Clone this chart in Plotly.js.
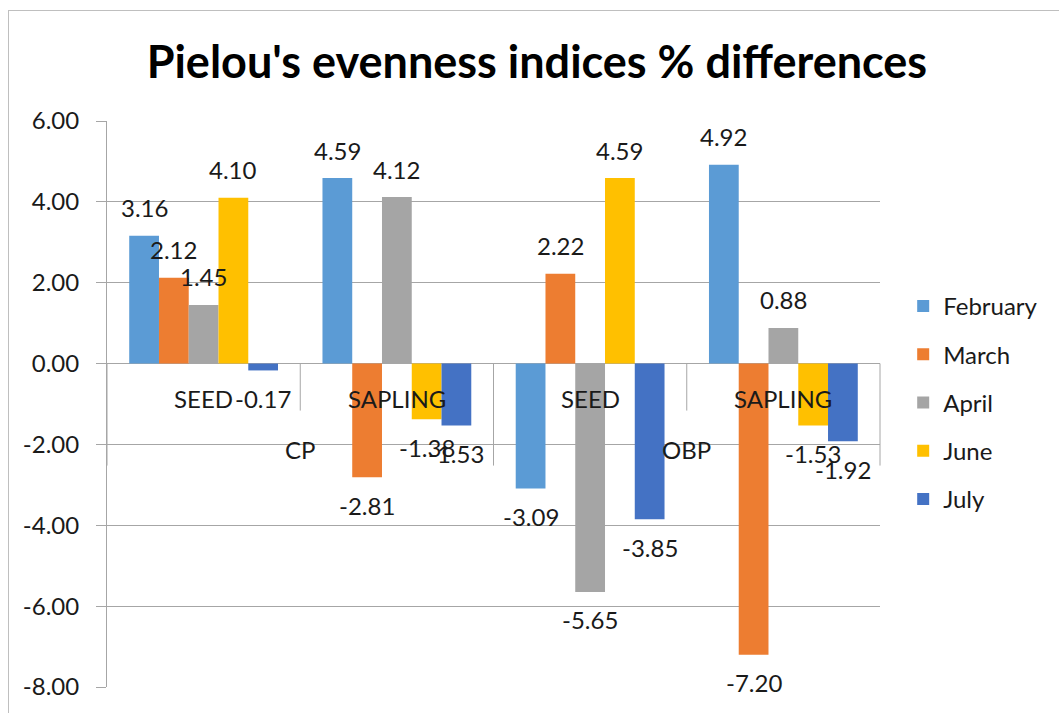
<!DOCTYPE html>
<html>
<head>
<meta charset="utf-8">
<script src="https://cdn.plot.ly/plotly-3.0.1.min.js"></script>
<style>
  html, body { margin: 0; padding: 0; background: #fff; }
  #frame { position: absolute; left: 8px; top: 10px; width: 1200px; height: 900px; border: 1px solid #bfbfbf; box-sizing: border-box; }
  #chart { position: absolute; left: 0; top: 0; width: 1059px; height: 713px; }
</style>
</head>
<body>
<div id="frame"></div>
<div id="chart"></div>
<script>
const sites = ["CP", "CP", "OBP", "OBP"];
const stages = ["SEED", "SAPLING", "SEED", "SAPLING"];
const months = ["February", "March", "April", "June", "July"];
const february = [3.16, 4.59, -3.09, 4.92];
const march = [2.12, -2.81, 2.22, -7.20];
const april = [1.45, 4.12, -5.65, 0.88];
const june = [4.10, -1.38, 4.59, -1.53];
const july = [-0.17, -1.53, -3.85, -1.92];
const yTicks = [6, 4, 2, 0, -2, -4, -6, -8];

const series = [february, march, april, june, july];
const colors = ["#5B9BD5", "#ED7D31", "#A5A5A5", "#FFC000", "#4472C4"];
const FONT = "Lato, 'Open Sans', sans-serif";
const FS = 24;
const BARGAP = 0.23;
const GRAY = "#a6a6a6";

const traces = series.map((vals, i) => ({
  type: "bar",
  name: months[i],
  legendgroup: months[i],
  x: [sites, stages],
  y: vals,
  marker: { color: colors[i] },
  hoverinfo: "none"
}));

const nCat = stages.length;
const nSer = series.length;
const barW = (1 - BARGAP) / nSer;
const annotations = [];
// value labels, placed via the y scale, offset from bar ends
series.forEach((vals, i) => {
  vals.forEach((v, j) => {
    annotations.push({
      xref: "paper", yref: "y",
      x: (j + 0.5 + (i - (nSer - 1) / 2) * barW) / nCat,
      y: v,
      yshift: v >= 0 ? 28 : -28,
      text: v.toFixed(2),
      showarrow: false,
      xanchor: "center", yanchor: "middle",
      font: { family: FONT, size: FS, color: "#1a1a1a" }
    });
  });
});
// category labels (inner level)
stages.forEach((s, j) => {
  annotations.push({
    xref: "paper", yref: "y", x: (j + 0.5) / nCat, y: 0, yshift: -35,
    text: s, showarrow: false, xanchor: "center", yanchor: "middle",
    font: { family: FONT, size: FS, color: "#1a1a1a" }
  });
});
// group labels (outer level)
const groups = [...new Set(sites)];
groups.forEach((g, k) => {
  const idx = sites.map((s, j) => s === g ? j : -1).filter(j => j >= 0);
  const c = (idx[0] + idx[idx.length - 1] + 1) / 2;
  annotations.push({
    xref: "paper", yref: "y", x: c / nCat, y: 0, yshift: -86,
    text: g, showarrow: false, xanchor: "center", yanchor: "middle",
    font: { family: FONT, size: FS, color: "#1a1a1a" }
  });
});

// category separators hanging below the zero line
const shapes = [];
for (let j = 0; j <= nCat; j++) {
  const groupEdge = (j === 0 || j === nCat || sites[j] !== sites[j - 1]);
  shapes.push({
    type: "line", xref: "paper", yref: "y",
    ysizemode: "pixel", yanchor: 0,
    x0: j / nCat, x1: j / nCat, y0: 0, y1: groupEdge ? -102 : -47,
    line: { color: GRAY, width: 1 }
  });
}

const layout = {
  width: 1059, height: 713,
  margin: { l: 107, r: 179, t: 121, b: 26 },
  paper_bgcolor: "rgba(0,0,0,0)",
  plot_bgcolor: "rgba(0,0,0,0)",
  font: { family: FONT, size: FS, color: "#1a1a1a" },
  title: {
    text: "<b>Pielou's evenness indices % differences</b>",
    font: { family: FONT, size: 45, color: "#000" },
    x: 0.507, xanchor: "center", xref: "container",
    y: 0.913, yanchor: "middle", yref: "container"
  },
  barmode: "group",
  bargap: BARGAP,
  bargroupgap: 0,
  showlegend: true,
  legend: {
    x: 1.030, xanchor: "left", y: 0.712, yanchor: "top",
    font: { family: FONT, size: FS, color: "#1a1a1a" },
    tracegroupgap: 14,
    bgcolor: "rgba(0,0,0,0)"
  },
  annotations: annotations,
  shapes: shapes,
  xaxis: {
    type: "multicategory",
    showline: false,
    showgrid: false,
    zeroline: false,
    ticks: "",
    showdividers: false,
    showticklabels: false
  },
  yaxis: {
    range: [-8, 6],
    tickvals: yTicks,
    ticktext: yTicks.map(v => v.toFixed(2)),
    showgrid: true,
    gridcolor: GRAY,
    gridwidth: 1,
    zeroline: true,
    zerolinecolor: GRAY,
    zerolinewidth: 1,
    showline: true,
    linecolor: GRAY,
    ticks: "outside",
    ticklen: 10,
    tickcolor: GRAY,
    ticklabelstandoff: 12,
    tickfont: { family: FONT, size: FS, color: "#1a1a1a" }
  }
};

Plotly.newPlot("chart", traces, layout, { staticPlot: true });
</script>
</body>
</html>
